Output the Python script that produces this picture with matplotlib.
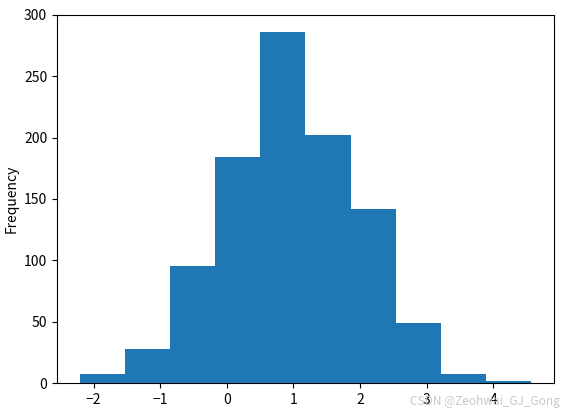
import numpy as np
import matplotlib
matplotlib.use("Agg")
import matplotlib.pyplot as plt

plt.rcParams['font.family'] = ['Noto Sans CJK SC', 'DejaVu Sans']
plt.rcParams['font.size'] = 10

# histogram: 10 bins
bin_left = -2.21
bin_width = 0.678
counts = [7, 28, 95, 184, 286, 202, 142, 49, 7, 2]
edges = bin_left + bin_width * np.arange(len(counts) + 1)

fig = plt.figure(figsize=(5.64, 4.15), dpi=100)
ax = fig.add_axes([0.101, 0.077, 0.881, 0.887])

ax.hist(edges[:-1], bins=edges, weights=counts, color='#1f77b4')
ax.set_ylabel('Frequency')
ax.set_ylim(0, 300)
ax.set_xticks([-2, -1, 0, 1, 2, 3, 4])

fig.text(0.993, 0.018, 'CSDN @Zeohwai_GJ_Gong', ha='right', va='bottom',
         color='#c8c8c8', fontsize=8.5)

fig.savefig('out.png', dpi=100)
